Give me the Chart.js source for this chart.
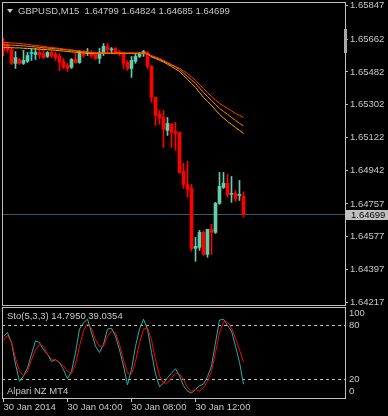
<!DOCTYPE html>
<html>
<head>
<meta charset="utf-8">
<script src="https://cdn.jsdelivr.net/npm/chart.js@4.4.1/dist/chart.umd.min.js"></script>
<style>
  html, body { margin: 0; padding: 0; background: #000; }
  #wrap { position: relative; width: 388px; height: 416px; overflow: hidden; background: #000;
          font-family: "Liberation Sans", Arial, sans-serif; font-size: 9.5px; color: #C8C8C8; }
  canvas { position: absolute; left: 0; }
  #main { top: 0; }
  #sub { top: 306px; }
  .lbl { position: absolute; white-space: pre; line-height: 12px; }
  .tri { display: inline-block; width: 0; height: 0; border-left: 3px solid transparent;
         border-right: 3px solid transparent; border-top: 4px solid #C8C8C8; margin-right: 5px; vertical-align: 1px; }
</style>
</head>
<body>
<div id="wrap">
  <canvas id="main" width="388" height="306"></canvas>
  <canvas id="sub" width="388" height="110"></canvas>
  <div class="lbl" id="title" style="left:7px;top:5px"></div>
  <div class="lbl" id="stoTitle" style="left:7px;top:310px"></div>
  <div class="lbl" id="broker" style="left:7px;top:385px"></div>
</div>
<script>
// --- DONNEES ---
const symbol = "GBPUSD";
const period = "M15";
const broker = "Alpari NZ MT4";

const opens = [1.65644,1.65627,1.65605,1.65529,1.65550,1.65529,1.65540,1.65583,1.65578,1.65589,
  1.65583,1.65567,1.65589,1.65578,1.65567,1.65540,1.65518,1.65507,1.65550,1.65534,
  1.65583,1.65583,1.65589,1.65583,1.65556,1.65583,1.65622,1.65603,1.65611,1.65590,
  1.65583,1.65534,1.65501,1.65540,1.65567,1.65583,1.65589,1.65512,1.65342,1.65249,
  1.65232,1.65161,1.65194,1.65155,1.65150,1.64936,1.64864,1.64842,1.64513,1.64518,
  1.64601,1.64480,1.64617,1.64601,1.64760,1.64848,1.64870,1.64809,1.64815,1.64803,
  1.64799];
const highs = [1.65666,1.65644,1.65616,1.65594,1.65556,1.65600,1.65589,1.65611,1.65611,1.65616,
  1.65611,1.65594,1.65600,1.65589,1.65583,1.65556,1.65529,1.65556,1.65583,1.65600,
  1.65600,1.65611,1.65600,1.65589,1.65611,1.65638,1.65638,1.65616,1.65616,1.65600,
  1.65589,1.65545,1.65567,1.65583,1.65589,1.65600,1.65594,1.65518,1.65345,1.65271,
  1.65271,1.65232,1.65199,1.65205,1.65150,1.64980,1.64991,1.64864,1.64573,1.64612,
  1.64606,1.64617,1.64645,1.64766,1.64930,1.64930,1.64919,1.64908,1.64831,1.64886,
  1.64824];
const lows = [1.65572,1.65589,1.65523,1.65501,1.65523,1.65523,1.65534,1.65545,1.65550,1.65556,
  1.65556,1.65561,1.65561,1.65545,1.65490,1.65501,1.65485,1.65501,1.65529,1.65529,
  1.65561,1.65572,1.65561,1.65550,1.65529,1.65572,1.65583,1.65583,1.65580,1.65572,
  1.65501,1.65490,1.65452,1.65529,1.65561,1.65567,1.65501,1.65315,1.65188,1.65194,
  1.65067,1.65133,1.65067,1.65051,1.64925,1.64842,1.64793,1.64497,1.64442,1.64502,
  1.64475,1.64464,1.64480,1.64595,1.64755,1.64842,1.64793,1.64766,1.64771,1.64776,
  1.64685];
const closes = [1.65600,1.65605,1.65529,1.65561,1.65529,1.65545,1.65572,1.65583,1.65589,1.65578,
  1.65561,1.65589,1.65572,1.65561,1.65534,1.65507,1.65501,1.65550,1.65534,1.65583,
  1.65572,1.65585,1.65572,1.65556,1.65589,1.65622,1.65605,1.65605,1.65583,1.65587,
  1.65529,1.65501,1.65545,1.65567,1.65578,1.65594,1.65512,1.65342,1.65243,1.65227,
  1.65166,1.65199,1.65150,1.65144,1.64930,1.64864,1.64837,1.64513,1.64524,1.64601,
  1.64480,1.64617,1.64601,1.64760,1.64853,1.64870,1.64809,1.64811,1.64787,1.64805,
  1.64699];

const maFast = [1.65644,1.65643,1.65641,1.65640,1.65638,1.65636,1.65633,1.65630,1.65627,1.65625,
  1.65622,1.65619,1.65616,1.65614,1.65611,1.65608,1.65605,1.65603,1.65600,1.65597,
  1.65594,1.65592,1.65589,1.65586,1.65586,1.65586,1.65586,1.65586,1.65586,1.65586,
  1.65586,1.65586,1.65586,1.65586,1.65586,1.65586,1.65583,1.65572,1.65564,1.65556,
  1.65545,1.65534,1.65523,1.65512,1.65501,1.65487,1.65474,1.65455,1.65435,1.65413,
  1.65391,1.65369,1.65347,1.65328,1.65309,1.65295,1.65282,1.65268,1.65254,1.65243,
  1.65232];
const maMid = [1.65630,1.65630,1.65629,1.65628,1.65627,1.65625,1.65623,1.65621,1.65619,1.65617,
  1.65615,1.65613,1.65611,1.65609,1.65607,1.65605,1.65603,1.65600,1.65597,1.65594,
  1.65592,1.65589,1.65587,1.65585,1.65585,1.65585,1.65585,1.65585,1.65585,1.65585,
  1.65585,1.65585,1.65585,1.65585,1.65585,1.65585,1.65583,1.65567,1.65559,1.65551,
  1.65542,1.65531,1.65520,1.65509,1.65496,1.65476,1.65457,1.65438,1.65419,1.65394,
  1.65369,1.65347,1.65325,1.65303,1.65282,1.65265,1.65249,1.65232,1.65216,1.65199,
  1.65186];
const maSlow = [1.65616,1.65616,1.65615,1.65614,1.65614,1.65612,1.65611,1.65609,1.65608,1.65607,
  1.65605,1.65604,1.65603,1.65601,1.65598,1.65597,1.65594,1.65592,1.65590,1.65588,
  1.65586,1.65585,1.65583,1.65583,1.65583,1.65583,1.65583,1.65583,1.65583,1.65583,
  1.65583,1.65583,1.65583,1.65583,1.65583,1.65583,1.65581,1.65564,1.65556,1.65546,
  1.65537,1.65524,1.65512,1.65498,1.65485,1.65463,1.65441,1.65419,1.65397,1.65369,
  1.65342,1.65320,1.65298,1.65273,1.65249,1.65229,1.65210,1.65194,1.65177,1.65161,
  1.65144];

const priceTicks = [1.65847,1.65662,1.65482,1.65302,1.65122,1.64942,1.64757,1.64577,1.64397,1.64217];

const stochK = [68,72,61,37,18,24,33,48,63,61,
  53,48,40,42,39,31,21,29,50,76,
  83,87,72,57,50,59,76,77,68,53,
  35,14,31,57,76,87,76,50,26,12,
  16,22,27,32,24,13,7,5,9,13,
  15,23,35,61,86,87,80,74,57,39,
  14.795];
const stochD = [64,69,61,44,29,24,29,42,53,59,
  57,48,43,42,39,35,29,27,37,57,
  74,82,77,64,57,57,68,74,72,59,
  42,27,26,40,61,76,77,64,42,24,
  16,16,22,27,26,20,11,7,9,7,
  11,18,29,50,72,84,84,77,66,53,
  39.0354];
const stochLevels = [80, 20];
const stochAxisTicks = [100, 80, 20, 0];

const timeTickBars = [0, 16, 32, 48];
const timeLabels = ["30 Jan 2014", "30 Jan 04:00", "30 Jan 08:00", "30 Jan 12:00"];

// --- STYLE ---
const BULL = "#66CDAA", BEAR = "#FF0000", DOJI = "#00E5EE";
const FG = "#C8C8C8", FRAME = "#C0C0C0";
const X_MIN = -0.375, X_MAX = 85.375;
const FONT = { family: "Liberation Sans", size: 9.5 };

Chart.defaults.font.family = FONT.family;
Chart.defaults.font.size = FONT.size;
Chart.defaults.color = FG;

const last = closes.length - 1;
const bid = closes[last];

document.getElementById("title").innerHTML =
  '<span class="tri"></span>' + symbol + "," + period + "  " +
  [opens[last], highs[last], lows[last], closes[last]].map(v => v.toFixed(5)).join(" ");
document.getElementById("stoTitle").textContent =
  "Sto(5,3,3) " + stochK[last].toFixed(4) + " " + stochD[last].toFixed(4);
document.getElementById("broker").textContent = broker;

function candleColor(i) {
  if (closes[i] > opens[i]) return BULL;
  if (closes[i] < opens[i]) return BEAR;
  return DOJI;
}
const toXY = arr => arr.map((v, i) => ({ x: i, y: v }));
const flat = v => [{ x: X_MIN, y: v }, { x: X_MAX, y: v }];

// pas de marge auto pour les etiquettes (MT4 les laisse deborder)
function fixSize(prop, size) {
  return s => {
    s[prop] = size;
    s.paddingTop = 0; s.paddingBottom = 0; s.paddingLeft = 0; s.paddingRight = 0;
  };
}

// cadre gris autour de la zone du graphe
const framePlugin = {
  id: "frame",
  afterDraw(chart, args, opts) {
    const { ctx, chartArea: a } = chart;
    ctx.save();
    ctx.strokeStyle = FRAME;
    ctx.lineWidth = 1;
    ctx.strokeRect(a.left + 0.5, a.top + 0.5, a.right - a.left, a.bottom - a.top);
    if (opts.bidLabel) {
      const y = Math.round(chart.scales.y.getPixelForValue(bid));
      ctx.fillStyle = "#C0C0C0";
      ctx.fillRect(a.right + 1, y - 5, 42, 10);
      ctx.fillStyle = "#000";
      ctx.font = FONT.size + "px " + FONT.family;
      ctx.textBaseline = "middle";
      ctx.fillText(bid.toFixed(5), a.right + 6, y + 0.5);
      // marqueur de decalage
      ctx.fillStyle = "#A8A8A8";
      ctx.fillRect(a.right - 1, 29, 3, 24);
    }
    ctx.restore();
  }
};

// --- GRAPHE PRINCIPAL ---
new Chart(document.getElementById("main"), {
  type: "bar",
  data: {
    datasets: [
      { type: "line", data: toXY(maFast), borderColor: "#FF3C00", borderWidth: 1, pointRadius: 0 },
      { type: "line", data: toXY(maMid), borderColor: "#FF8000", borderWidth: 1, pointRadius: 0 },
      { type: "line", data: toXY(maSlow), borderColor: "#FFAA00", borderWidth: 1, pointRadius: 0 },
      {
        data: opens.map((o, i) => ({ x: i, y: [o, closes[i]] })),
        backgroundColor: opens.map((o, i) => candleColor(i)),
        barThickness: 3, maxBarThickness: 3, minBarLength: 1, grouped: false, borderWidth: 0
      },
      {
        data: lows.map((l, i) => ({ x: i, y: [l, highs[i]] })),
        backgroundColor: lows.map((l, i) => candleColor(i)),
        barThickness: 1, maxBarThickness: 1, minBarLength: 1, grouped: false, borderWidth: 0
      },
      { type: "line", data: flat(bid), borderColor: "#2F5F5F", borderWidth: 1, pointRadius: 0 }
    ]
  },
  options: {
    responsive: false,
    animation: false,
    events: [],
    layout: { padding: { left: 2, top: 2, right: 0, bottom: 1 } },
    plugins: { legend: { display: false }, tooltip: { enabled: false }, frame: { bidLabel: true } },
    scales: {
      x: { type: "linear", min: X_MIN, max: X_MAX, offset: false, display: false },
      y: {
        position: "right",
        min: 1.64202,
        max: 1.65866,
        afterBuildTicks: s => { s.ticks = priceTicks.map(v => ({ value: v })); },
        afterFit: fixSize("width", 43),
        grid: { drawOnChartArea: false, drawTicks: true, tickLength: 3, tickColor: FRAME },
        border: { display: false },
        ticks: { padding: 2, color: FG, autoSkip: false, callback: v => v.toFixed(5) }
      }
    }
  },
  plugins: [framePlugin]
});

// --- STOCHASTIQUE ---
new Chart(document.getElementById("sub"), {
  type: "line",
  data: {
    datasets: [
      { data: toXY(stochD), borderColor: "#FF0000", borderWidth: 1, pointRadius: 0 },
      { data: toXY(stochK), borderColor: "#20B2AA", borderWidth: 1, pointRadius: 0 },
      ...stochLevels.map(v => ({ data: flat(v), borderColor: FRAME, borderWidth: 1, borderDash: [3, 3], pointRadius: 0 }))
    ]
  },
  options: {
    responsive: false,
    animation: false,
    events: [],
    layout: { padding: { left: 2, top: 1, right: 0, bottom: 0 } },
    plugins: { legend: { display: false }, tooltip: { enabled: false }, frame: {} },
    scales: {
      x: {
        type: "linear", min: X_MIN, max: X_MAX, offset: false,
        afterBuildTicks: s => { s.ticks = timeTickBars.map(v => ({ value: v })); },
        afterFit: fixSize("height", 18),
        grid: { drawOnChartArea: false, drawTicks: true, tickLength: 4, tickColor: FRAME },
        border: { display: false },
        ticks: { align: "start", autoSkip: false, maxRotation: 0, padding: 0, color: FG,
                 callback: (v, i) => timeLabels[i] }
      },
      y: {
        position: "right",
        min: -0.5556,
        max: 100.5556,
        afterBuildTicks: s => { s.ticks = stochAxisTicks.map(v => ({ value: v })); },
        afterFit: fixSize("width", 43),
        grid: { display: false, drawTicks: false },
        border: { display: false },
        ticks: {
          padding: 4, color: FG, autoSkip: false,
          callback: v => v === 100 ? ["", "100"] : v === 0 ? ["0", ""] : String(v)
        }
      }
    }
  },
  plugins: [framePlugin]
});
</script>
</body>
</html>
